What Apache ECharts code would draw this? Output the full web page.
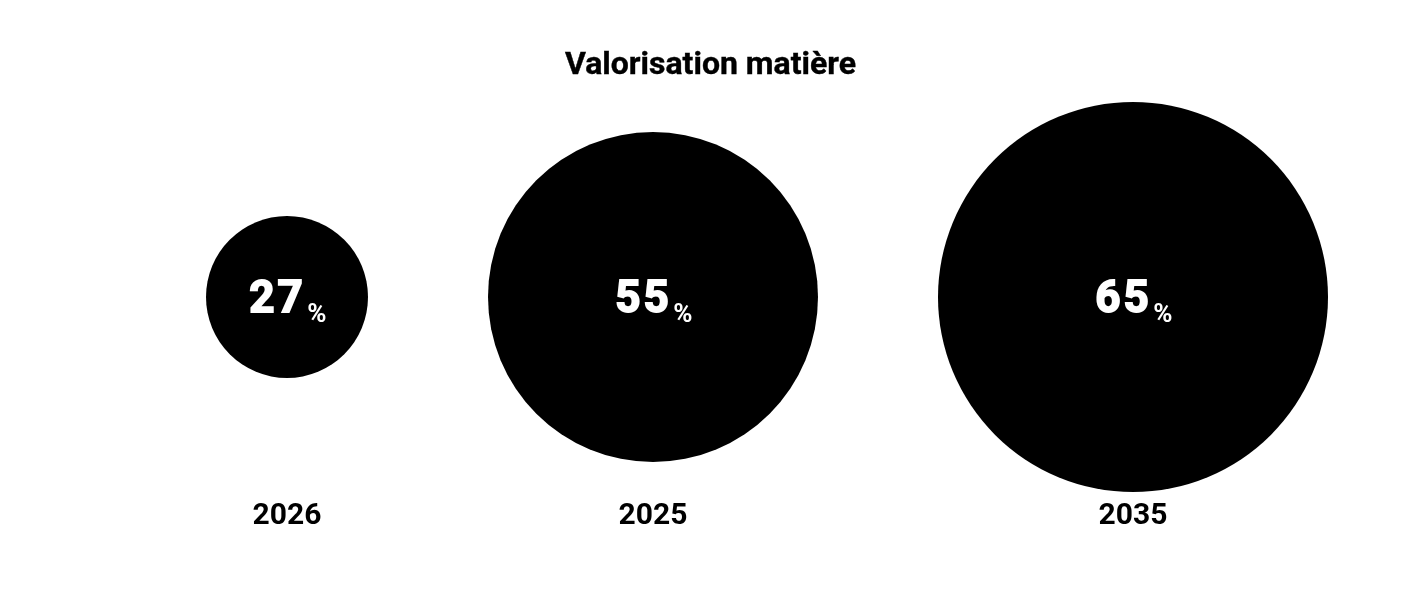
<!DOCTYPE html>
<html><head><meta charset="utf-8">
<script src="https://cdn.jsdelivr.net/npm/echarts@6/dist/echarts.min.js"></script>
<style>html,body{margin:0;padding:0;background:#fff}#c{width:1421px;height:612px}</style>
</head><body><div id="c"></div>
<script>
const title = 'Valorisation matière';
const years = ['2026', '2025', '2035'];
const values = [27, 55, 65];

// layout in value units: circles packed left-to-right with a fixed gap
const GAP = 40;
const centers = [];
let acc = 0;
values.forEach((v, i) => { centers.push(acc + v); acc += 2 * v + GAP; });
const total = acc - GAP;

const chart = echarts.init(document.getElementById('c'));
chart.setOption({
  animation: false,
  title: { text: title, left: 'center', top: 45,
    textStyle: { fontFamily: 'Roboto', fontWeight: 'bold', fontSize: 32, color: '#000',
      textBorderColor: '#000', textBorderWidth: 0.4 } },
  grid: { left: 206, width: 1122, top: 0, bottom: 18 },
  xAxis: { type: 'value', min: 0, max: total, show: false },
  yAxis: { type: 'value', min: -1, max: 1, show: false },
  series: [
    {
      type: 'scatter',
      data: values.map((v, i) => [centers[i], 0, v]),
      symbol: 'circle',
      symbolSize: d => d[2] * 6,
      itemStyle: { color: '#000', opacity: 1 },
      label: {
        show: true, position: 'inside', offset: [0, 4],
        formatter: p => String(p.value[2]).split('').map(c => '{n|' + c + '}').join('') + '{p|%}',
        rich: {
          n: { fontFamily: 'Roboto', fontWeight: 'bold', fontSize: 44, lineHeight: 44,
               verticalAlign: 'middle', color: '#fff', textBorderColor: '#fff', textBorderWidth: 1.8,
               padding: [0, 1.5, 0, 1.5] },
          p: { fontFamily: 'Roboto', fontWeight: 'bold', fontSize: 26, lineHeight: 24,
               verticalAlign: 'middle', color: '#fff', padding: [29, 0, 0, 3] }
        }
      }
    },
    {
      type: 'scatter',
      data: values.map((v, i) => [centers[i], -0.74, years[i]]),
      symbolSize: 0,
      itemStyle: { color: 'transparent', opacity: 1 },
      label: {
        show: true, position: 'inside', formatter: p => p.value[2],
        fontFamily: 'Roboto', fontWeight: 'bold', fontSize: 30, color: '#000'
      }
    }
  ]
});
</script></body></html>
